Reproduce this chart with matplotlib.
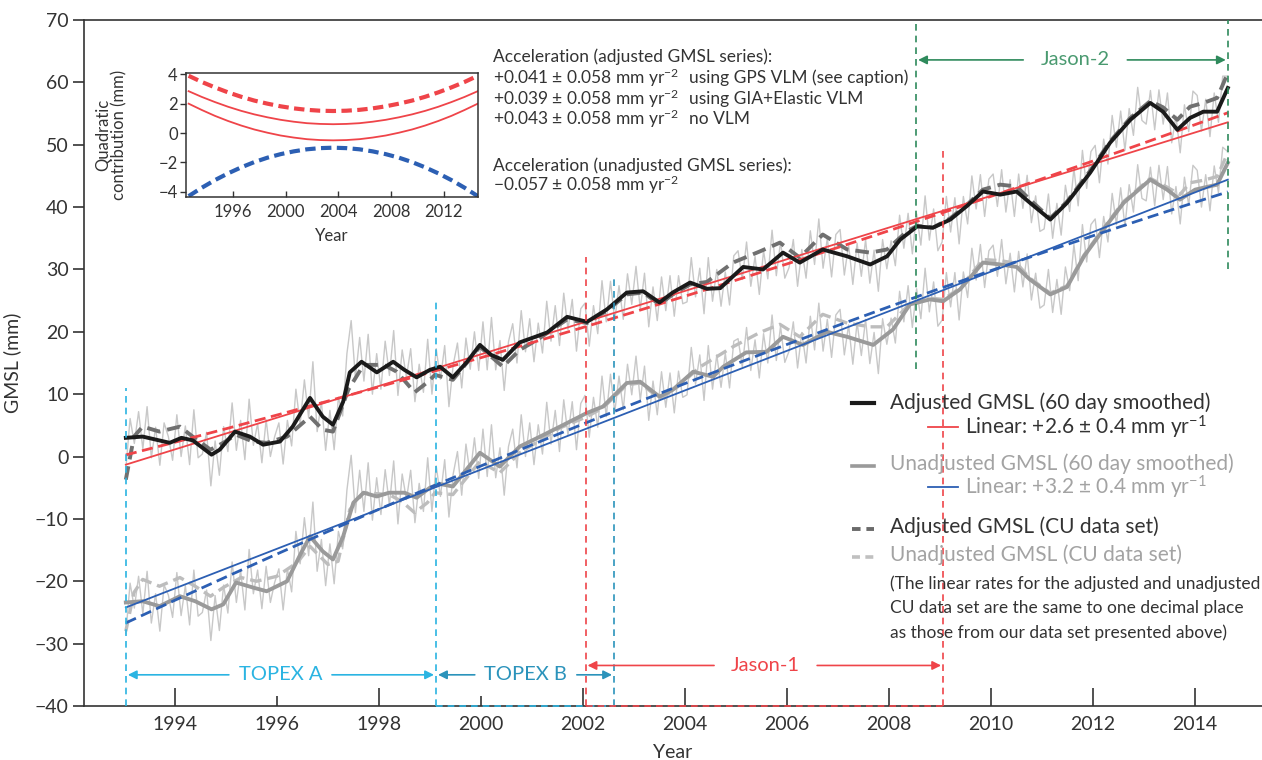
import numpy as np
import matplotlib
matplotlib.use("Agg")
import matplotlib.pyplot as plt
from matplotlib.lines import Line2D

plt.rcParams['font.family'] = ['Lato', 'DejaVu Sans']
plt.rcParams['mathtext.fontset'] = 'custom'
plt.rcParams['mathtext.rm'] = 'Lato'
plt.rcParams['mathtext.it'] = 'Lato'
plt.rcParams['mathtext.default'] = 'regular'

# ---------------- data ----------------
# 60-day smoothed adjusted GMSL (mm)
adj_smooth_years = [1993.04, 1993.37, 1993.9, 1994.13, 1994.35, 1994.72, 1994.88, 1995.18, 1995.47, 1995.73,
                    1996.06, 1996.31, 1996.65, 1996.9, 1997.1, 1997.3, 1997.43, 1997.66, 1997.96, 1998.28,
                    1998.5, 1998.74, 1999.0, 1999.2, 1999.45, 1999.72, 1999.98, 2000.2, 2000.43, 2000.76,
                    2001.1, 2001.3, 2001.69, 2002.08, 2002.47, 2002.86, 2003.18, 2003.5, 2003.76, 2004.1,
                    2004.43, 2004.69, 2005.14, 2005.53, 2005.92, 2006.25, 2006.7, 2007.18, 2007.63, 2007.96,
                    2008.22, 2008.55, 2008.86, 2009.2, 2009.53, 2009.84, 2010.18, 2010.5, 2010.76, 2011.16,
                    2011.49, 2011.94, 2012.33, 2012.73, 2013.12, 2013.37, 2013.65, 2013.9, 2014.16, 2014.43,
                    2014.64]
adj_smooth = [3.0, 3.2, 2.2, 3.0, 2.6, 0.3, 1.1, 4.0, 3.2, 1.9,
              2.4, 4.8, 9.4, 6.4, 5.1, 8.8, 13.5, 15.2, 13.5, 15.2,
              13.9, 12.7, 13.9, 14.4, 12.7, 15.1, 17.9, 16.3, 15.5, 18.3,
              19.3, 19.9, 22.4, 21.6, 23.6, 26.3, 26.5, 24.7, 26.3, 27.9,
              26.9, 27.0, 30.4, 30.0, 32.7, 31.1, 33.2, 32.1, 30.8, 32.1,
              34.8, 36.9, 36.7, 38.0, 40.2, 42.5, 42.0, 42.5, 40.7, 38.0,
              40.7, 45.5, 50.3, 54.0, 56.7, 55.3, 52.4, 54.3, 55.3, 55.3,
              59.1]

# 60-day smoothed unadjusted GMSL (mm)
unadj_smooth_years = [1993.04, 1993.37, 1993.7, 1994.1, 1994.4, 1994.72, 1994.95, 1995.2, 1995.53, 1995.8,
                      1996.2, 1996.46, 1996.65, 1996.9, 1997.1, 1997.3, 1997.5, 1997.7, 1997.96, 1998.2,
                      1998.5, 1998.74, 1999.0, 1999.2, 1999.45, 1999.98, 2000.37, 2000.76, 2001.16, 2001.55,
                      2002.08, 2002.39, 2002.86, 2003.12, 2003.5, 2003.76, 2004.16, 2004.55, 2004.75, 2005.2,
                      2005.6, 2005.92, 2006.31, 2006.78, 2007.18, 2007.69, 2008.08, 2008.41, 2008.8, 2009.06,
                      2009.39, 2009.84, 2010.18, 2010.5, 2010.76, 2011.16, 2011.49, 2011.82, 2012.2, 2012.6,
                      2013.12, 2013.45, 2013.7, 2014.0, 2014.43, 2014.64]
unadj_smooth = [-23.4, -23.2, -24.0, -22.4, -23.2, -24.5, -23.7, -20.2, -21.0, -21.6,
                -20.0, -15.7, -12.8, -15.2, -16.5, -12.8, -7.4, -5.8, -6.4, -5.8,
                -5.8, -6.6, -5.0, -4.4, -4.8, 0.6, -1.6, 1.6, 3.2, 4.8,
                7.0, 8.0, 11.8, 12.0, 9.6, 10.7, 13.6, 12.8, 14.4, 16.7,
                16.8, 19.2, 17.9, 20.0, 19.2, 17.9, 20.4, 24.4, 25.2, 24.9,
                26.8, 31.1, 30.8, 30.4, 28.4, 26.0, 27.2, 32.1, 36.4, 40.7,
                44.4, 42.8, 41.2, 42.8, 43.6, 47.1]

# CU data set, adjusted
cu_adj_years = [1993.04, 1993.2, 1993.37, 1993.7, 1994.1, 1994.35, 1994.7, 1994.95, 1995.2, 1995.53,
                1995.8, 1996.2, 1996.65, 1996.9, 1997.1, 1997.4, 1997.7, 1998.1, 1998.35, 1998.7,
                1998.95, 1999.1, 1999.45, 1999.98, 2000.43, 2000.76, 2001.1, 2001.69, 2002.08, 2002.47,
                2002.86, 2003.18, 2003.5, 2003.76, 2004.1, 2004.43, 2004.94, 2005.47, 2005.86, 2006.25,
                2006.7, 2007.18, 2007.63, 2007.96, 2008.35, 2008.55, 2008.86, 2009.2, 2009.53, 2009.84,
                2010.18, 2010.5, 2010.76, 2011.16, 2011.49, 2011.94, 2012.33, 2012.73, 2013.12, 2013.37,
                2013.65, 2013.9, 2014.16, 2014.43, 2014.64]
cu_adj = [-3.7, 3.2, 4.8, 4.0, 4.8, 3.2, 1.1, 2.2, 3.5, 2.4,
          2.2, 3.2, 6.4, 4.3, 4.0, 10.7, 14.7, 14.7, 13.6, 10.3,
          11.9, 13.1, 12.3, 17.6, 14.4, 17.1, 18.7, 22.0, 21.4, 23.4,
          26.0, 26.3, 24.4, 26.0, 27.6, 28.0, 31.1, 32.9, 34.3, 31.9,
          35.6, 33.2, 32.7, 33.2, 36.1, 37.0, 36.7, 38.2, 40.4, 42.8,
          43.6, 43.3, 41.2, 38.2, 40.9, 45.8, 50.5, 54.3, 57.0, 56.0,
          54.0, 56.1, 56.7, 57.5, 61.5]

# CU data set, unadjusted
cu_unadj_years = [1993.04, 1993.2, 1993.37, 1993.7, 1994.1, 1994.4, 1994.7, 1994.95, 1995.3, 1995.6,
                  1996.0, 1996.4, 1996.65, 1997.0, 1997.2, 1997.43, 1997.7, 1998.2, 1998.45, 1998.7,
                  1998.95, 1999.1, 1999.45, 1999.98, 2000.37, 2000.76, 2001.55, 2002.08, 2002.39, 2002.86,
                  2003.12, 2003.5, 2003.76, 2004.16, 2004.3, 2004.94, 2005.47, 2005.86, 2006.25, 2006.7,
                  2007.18, 2007.63, 2007.96, 2008.35, 2008.8, 2009.06, 2009.39, 2009.84, 2010.18, 2010.5,
                  2010.76, 2011.16, 2011.49, 2011.82, 2012.2, 2012.6, 2013.12, 2013.45, 2013.7, 2013.9,
                  2014.16, 2014.43, 2014.64]
cu_unadj = [-28.0, -21.8, -19.7, -20.8, -19.4, -20.8, -22.4, -21.0, -19.4, -20.0,
            -19.2, -17.0, -14.4, -17.3, -16.8, -8.5, -5.8, -6.1, -7.2, -9.0,
            -7.4, -5.8, -6.1, -0.8, -2.6, 0.6, 4.6, 6.4, 7.8, 11.5,
            11.8, 9.3, 10.5, 13.4, 14.4, 17.6, 19.9, 21.2, 19.2, 22.8,
            21.4, 20.8, 20.8, 24.0, 25.4, 25.2, 27.0, 31.6, 31.4, 31.0,
            28.6, 26.2, 27.4, 32.3, 36.6, 40.9, 44.6, 43.2, 42.0, 43.9,
            44.3, 44.9, 48.7]

# linear fits (solid) and quadratic fits (dashed)
lin_years = [1993.04, 2014.64]
adj_linear = [-1.3, 53.6]
unadj_linear = [-24.2, 44.4]
quad_years = [1993.04, 1994, 1995, 1996, 1997, 1998, 1999, 2000, 2001, 2002, 2003, 2004,
              2005, 2006, 2007, 2008, 2009, 2010, 2011, 2012, 2013, 2014, 2014.64]
adj_quad = [0.26, 2.29, 4.45, 6.65, 8.89, 11.17, 13.49, 15.85, 18.26, 20.70, 23.18, 25.71,
            28.28, 30.89, 33.53, 36.22, 38.96, 41.73, 44.54, 47.40, 50.29, 53.23, 55.12]
unadj_quad = [-26.68, -23.05, -19.32, -15.64, -12.02, -8.46, -4.96, -1.51, 1.88, 5.21, 8.49, 11.71,
              14.87, 17.98, 21.03, 24.02, 26.95, 29.83, 32.65, 35.41, 38.12, 40.77, 42.44]

# raw (unsmoothed) series, monthly samples starting 1993.04
raw_start = 1993.04
adj_raw = [
    -2.0, 6.1, 2.1, 7.2, 1.2, 8.0, -0.2, 4.7, -1.4, 5.4, 3.2, -0.6,
    6.7, 0.0, 4.9, -1.3, 7.5, -0.2, 0.4, 3.9, -4.7, 2.5, -3.0, 4.8,
    0.8, 8.6, 1.0, 5.8, -0.5, 9.2, 1.8, 5.3, -1.0, 5.9, 0.0, 3.2,
    5.4, -1.2, 5.8, 1.7, 10.8, 5.2, 12.3, 6.2, 15.2, 4.0, 8.8, 1.0,
    7.4, 1.1, 9.5, 6.5, 16.5, 21.8, 12.6, 19.1, 12.1, 19.6, 10.0, 16.5,
    10.8, 18.5, 13.0, 20.2, 9.8, 17.1, 12.7, 17.3, 8.8, 14.8, 10.3, 18.8,
    10.0, 17.3, 12.4, 17.8, 8.0, 14.7, 18.2, 11.0, 19.0, 14.0, 20.0, 13.8,
    21.6, 13.9, 22.3, 13.9, 18.6, 10.6, 18.4, 21.3, 15.0, 23.4, 16.8, 22.1,
    15.2, 21.4, 16.6, 24.9, 18.5, 24.2, 17.8, 26.2, 20.4, 25.2, 16.9, 23.7,
    24.6, 17.7, 24.2, 19.7, 28.2, 21.6, 28.1, 21.8, 27.4, 22.0, 29.3, 24.4,
    30.5, 23.6, 29.4, 20.8, 27.2, 21.8, 28.8, 23.4, 29.0, 22.5, 29.0, 24.5,
    24.8, 31.9, 25.6, 30.2, 22.9, 31.9, 24.9, 30.0, 24.1, 29.6, 24.3, 32.2,
    33.0, 28.4, 34.4, 27.3, 32.1, 26.0, 33.0, 28.5, 36.3, 29.0, 34.5, 28.6,
    30.3, 34.8, 27.3, 33.2, 28.6, 36.2, 30.8, 38.1, 30.2, 35.0, 28.8, 35.6,
    36.4, 29.1, 34.0, 27.6, 34.2, 28.9, 34.8, 27.8, 33.1, 26.5, 34.8, 30.1,
    34.6, 30.6, 38.7, 33.4, 39.0, 32.5, 38.9, 33.9, 41.8, 34.7, 39.7, 33.0,
    34.4, 41.7, 36.0, 41.5, 34.1, 41.7, 37.3, 45.0, 39.7, 45.2, 38.5, 44.5,
    45.3, 40.1, 46.0, 39.2, 44.4, 38.5, 45.3, 39.8, 45.1, 37.5, 41.8, 36.1,
    36.5, 42.1, 35.0, 40.6, 35.5, 43.5, 39.3, 46.2, 40.2, 49.1, 43.0, 48.9,
    49.9, 43.9, 50.9, 46.9, 54.7, 49.6, 55.4, 49.1, 55.8, 51.5, 59.2, 53.9,
    53.3, 58.7, 52.4, 58.8, 53.3, 58.3, 50.3, 54.6, 48.7, 56.4, 52.1, 58.6,
    57.9, 52.2, 57.3, 51.3, 58.3, 53.6, 61.0, 61.0]
unadj_raw = [
    -28.4, -20.3, -24.3, -19.2, -25.2, -18.4, -26.7, -22.0, -28.0, -20.6, -22.2, -25.8,
    -18.6, -25.5, -20.7, -27.0, -18.2, -25.6, -25.0, -21.4, -29.5, -22.3, -27.9, -20.6,
    -25.1, -16.9, -23.4, -18.3, -24.6, -14.9, -22.0, -18.2, -24.4, -17.6, -23.4, -20.2,
    -18.0, -24.6, -18.0, -21.7, -12.0, -17.2, -9.8, -15.9, -7.3, -18.4, -13.3, -20.7,
    -14.0, -20.4, -12.0, -14.8, -5.4, 0.2, -9.0, -2.2, -8.8, -1.0, -10.2, -3.4,
    -9.3, -2.1, -7.8, -0.7, -10.8, -2.8, -6.9, -2.2, -10.6, -4.3, -8.8, -0.2,
    -8.8, -1.5, -6.4, -0.5, -9.7, -2.8, 0.8, -6.2, 2.0, -2.9, 3.0, -3.5,
    4.4, -3.2, 5.1, -3.4, 1.4, -6.2, 1.6, 4.4, -1.8, 6.7, 0.0, 5.4,
    -1.3, 5.1, 0.4, 8.7, 2.0, 7.4, 0.8, 9.1, 3.4, 8.8, 1.1, 8.5,
    9.8, 3.1, 9.5, 4.7, 12.9, 6.4, 13.2, 7.1, 12.9, 7.5, 14.8, 9.9,
    16.1, 9.0, 14.5, 5.8, 12.1, 6.7, 13.6, 7.9, 13.4, 7.0, 13.7, 9.5,
    9.9, 17.5, 11.6, 16.3, 9.0, 17.8, 10.8, 16.3, 11.1, 16.6, 11.0, 18.5,
    18.9, 14.4, 20.7, 13.8, 18.7, 12.6, 19.7, 15.0, 22.7, 15.4, 20.9, 15.1,
    16.9, 21.6, 14.2, 19.9, 15.0, 22.5, 17.1, 24.6, 16.9, 22.0, 15.9, 22.7,
    23.6, 16.3, 21.1, 14.8, 21.5, 16.2, 22.0, 14.9, 19.9, 13.3, 22.1, 18.0,
    22.2, 18.2, 26.5, 21.6, 27.4, 20.7, 26.9, 22.1, 30.2, 23.2, 28.0, 20.9,
    21.9, 29.5, 24.0, 29.5, 21.9, 29.6, 25.5, 33.4, 28.3, 34.0, 27.1, 33.0,
    33.9, 28.9, 34.8, 27.7, 32.6, 26.4, 32.9, 27.2, 32.5, 25.1, 29.4, 23.8,
    24.3, 30.0, 23.1, 28.4, 22.8, 30.4, 26.6, 34.0, 28.2, 37.2, 31.2, 37.2,
    38.1, 31.9, 38.5, 34.4, 42.2, 37.2, 43.1, 36.9, 43.6, 39.2, 46.8, 41.4,
    41.0, 46.4, 40.2, 46.7, 41.2, 46.5, 38.9, 43.3, 37.3, 44.8, 40.3, 46.7,
    45.9, 40.0, 45.2, 39.4, 46.6, 42.3, 49.6, 49.0]

# satellite missions
mission_names = ['TOPEX A', 'TOPEX B', 'Jason-1', 'Jason-2']
mission_start = [1993.04, 1999.12, 2002.05, 2008.53]
mission_end = [1999.12, 2002.61, 2009.06, 2014.64]

# inset: quadratic contribution (mm)
inset_start = 1992.6
q_cu_adj = [3.90, 3.48, 3.11, 2.77, 2.47, 2.21, 2.00, 1.82, 1.68, 1.58, 1.52, 1.50,
            1.52, 1.58, 1.68, 1.82, 2.00, 2.21, 2.47, 2.77, 3.11, 3.48, 3.90]
q_gps = [2.85, 2.46, 2.11, 1.79, 1.51, 1.27, 1.07, 0.90, 0.77, 0.67, 0.62, 0.60,
         0.62, 0.67, 0.77, 0.90, 1.07, 1.27, 1.51, 1.79, 2.11, 2.46, 2.85]
q_novlm = [2.00, 1.57, 1.17, 0.82, 0.51, 0.24, 0.02, -0.17, -0.31, -0.42, -0.48, -0.50,
           -0.48, -0.42, -0.31, -0.17, 0.02, 0.24, 0.51, 0.82, 1.17, 1.57, 2.00]
q_unadj = [-4.30, -3.73, -3.21, -2.75, -2.34, -1.98, -1.68, -1.44, -1.25, -1.11, -1.03, -1.00,
           -1.03, -1.11, -1.25, -1.44, -1.68, -1.98, -2.34, -2.75, -3.21, -3.73, -4.30]

# ---------------- styles ----------------
TXT = '#333333'
LIGHT = '#a3a3a3'
RED = '#ef4449'
BLUE = '#2c5fb3'
CYAN = '#2bb4e2'
TEAL = '#2b93bb'
GREEN = '#2f8a5c'

W, H = 1262, 760
fig = plt.figure(figsize=(W / 100, H / 100), dpi=100)
ax = fig.add_axes([84 / W, (H - 706) / H, (W - 84) / W, 686 / H])
ax.set_xlim(1992.22, 2015.31)
ax.set_ylim(-40, 70)

raw_years = raw_start + np.arange(len(adj_raw)) / 12.0
ax.plot(raw_years, adj_raw, color='#c8c8c8', lw=1.0, zorder=1)
ax.plot(raw_years, unadj_raw, color='#c8c8c8', lw=1.0, zorder=1)

ax.plot(cu_unadj_years, cu_unadj, color='#bdbdbd', lw=2.4, ls=(0, (3.5, 1.8)), zorder=2)
ax.plot(unadj_smooth_years, unadj_smooth, color='#9a9a9a', lw=2.8, zorder=3, solid_joinstyle='round')
ax.plot(cu_adj_years, cu_adj, color='#707070', lw=2.8, ls=(0, (3.5, 1.8)), zorder=4)
ax.plot(lin_years, adj_linear, color=RED, lw=1.3, zorder=5)
ax.plot(quad_years, adj_quad, color=RED, lw=2.0, ls=(0, (4, 2)), zorder=5)
ax.plot(lin_years, unadj_linear, color=BLUE, lw=1.3, zorder=5)
ax.plot(quad_years, unadj_quad, color=BLUE, lw=2.0, ls=(0, (4, 2)), zorder=5)
ax.plot(adj_smooth_years, adj_smooth, color='#1a1a1a', lw=2.8, zorder=6, solid_joinstyle='round')

# mission boundary lines
dash = (0, (4, 3))
vlines = [(mission_start[0], -40, 11, CYAN), (mission_end[0], -40, 25, CYAN),
          (mission_start[2], -40, 32, RED), (mission_end[1], -40, 29, TEAL),
          (mission_end[2], -40, 49, RED), (mission_start[3], 14, 70, GREEN),
          (mission_end[3], 30, 70, GREEN)]
for x, y0, y1, c in vlines:
    ax.plot([x, x], [y0, y1], color=c, lw=1.2, ls=dash, zorder=7, clip_on=False)
ax.plot([mission_start[1], mission_end[1]], [-40, -40], color=CYAN, lw=1.2, ls=dash, zorder=8, clip_on=False)
ax.plot([mission_start[2], mission_end[2]], [-40, -40], color=RED, lw=1.2, ls=dash, zorder=8, clip_on=False)


def span_arrow(x0, x1, xl, xr, y, label, lc, tc):
    ap = dict(arrowstyle='-|>', color=lc, lw=1.2, mutation_scale=13, shrinkA=0, shrinkB=0)
    ax.annotate('', xy=(x0 + 0.04, y), xytext=(xl, y), arrowprops=ap, zorder=8)
    ax.annotate('', xy=(x1 - 0.04, y), xytext=(xr, y), arrowprops=ap, zorder=8)
    ax.text((xl + xr) / 2, y, label, color=tc, fontsize=14.5, ha='center', va='center', zorder=8)


span_arrow(mission_start[0], mission_end[0], 1995.06, 1997.08, -35.0, mission_names[0], CYAN, CYAN)
span_arrow(mission_start[1], mission_end[1], 1999.88, 2001.88, -35.0, mission_names[1], TEAL, TEAL)
span_arrow(mission_start[2], mission_end[2], 2004.57, 2006.59, -33.5, mission_names[2], RED, RED)
span_arrow(mission_start[3], mission_end[3], 2010.63, 2012.67, 63.6, mission_names[3], GREEN, '#4a9a70')

# axes styling
for s in ['left', 'bottom', 'top']:
    ax.spines[s].set_linewidth(1.2)
    ax.spines[s].set_color('#333333')
ax.spines['right'].set_visible(False)
xt = list(range(1994, 2015, 2))
ax.set_xticks(xt)
ax.set_xticklabels([str(v) for v in xt])
ax.set_yticks(range(-40, 71, 10))
ax.tick_params(axis='x', direction='in', length=13, width=1.2, pad=7, labelsize=14, colors=TXT, top=False)
ax.tick_params(axis='y', direction='out', length=8, width=1.2, pad=3, labelsize=14, colors=TXT, right=False)
for t, v in zip(ax.xaxis.get_major_ticks(), xt):
    if v in (1996, 2000):
        t.tick1line.set_markersize(7)
ax.set_xlabel('Year', fontsize=14, color=TXT, labelpad=8)
ax.set_ylabel('GMSL (mm)', fontsize=14, color=TXT)
ax.yaxis.set_label_coords(-0.053, 0.5)

# ---------------- inset ----------------
axin = fig.add_axes([186 / W, (H - 197) / H, (478 - 186) / W, (197 - 73) / H])
axin.set_facecolor('white')
axin.set_xlim(1992.4, 2014.62)
axin.set_ylim(-4.36, 4.09)
inset_years = inset_start + np.arange(len(q_gps))
axin.plot(inset_years, q_cu_adj, color=RED, lw=3.0, ls=(0, (2.5, 1.3)))
axin.plot(inset_years, q_gps, color=RED, lw=1.3)
axin.plot(inset_years, q_novlm, color=RED, lw=1.3)
axin.plot(inset_years, q_unadj, color=BLUE, lw=3.0, ls=(0, (2.5, 1.3)))
axin.set_xticks([1996, 2000, 2004, 2008, 2012])
axin.set_yticks([-4, -2, 0, 2, 4])
axin.tick_params(axis='x', direction='in', length=4, width=1, pad=5, labelsize=12, colors=TXT)
axin.tick_params(axis='y', direction='out', length=4, width=1, pad=2, labelsize=12, colors=TXT)
for s in axin.spines.values():
    s.set_linewidth(1.1)
    s.set_color('#333333')
axin.set_xlabel('Year', fontsize=12, color=TXT, labelpad=6)
axin.set_ylabel('Quadratic\ncontribution (mm)', fontsize=12, color=TXT, linespacing=1.0)
axin.yaxis.set_label_coords(-0.20, 0.5)

# ---------------- overlay (texts, legend) ----------------
ov = fig.add_axes([0, 0, 1, 1])
ov.set_xlim(0, W)
ov.set_ylim(H, 0)
ov.axis('off')
ov.patch.set_alpha(0)

fs_a = 12.5
ov.text(493, 57, 'Acceleration (adjusted GMSL series):', fontsize=fs_a, color=TXT, va='center')
acc_vals = ['+0.041 ± 0.058 mm yr$^{-2}$', '+0.039 ± 0.058 mm yr$^{-2}$', '+0.043 ± 0.058 mm yr$^{-2}$']
acc_desc = ['using GPS VLM (see caption)', 'using GIA+Elastic VLM', 'no VLM']
for i, (v, d) in enumerate(zip(acc_vals, acc_desc)):
    yy = [78, 99, 119][i]
    ov.text(493, yy, v, fontsize=fs_a, color=TXT, va='center')
    ov.text(689, yy, d, fontsize=fs_a, color=TXT, va='center')
ov.text(493, 166, 'Acceleration (unadjusted GMSL series):', fontsize=fs_a, color=TXT, va='center')
ov.text(493, 185, '−0.057 ± 0.058 mm yr$^{-2}$', fontsize=fs_a, color=TXT, va='center')

fs_l = 15
ov.add_line(Line2D([852, 874], [403, 403], color='#1a1a1a', lw=3.0))
ov.text(890, 403, 'Adjusted GMSL (60 day smoothed)', fontsize=fs_l, color=TXT, va='center')
ov.add_line(Line2D([928, 958], [427, 427], color=RED, lw=1.3))
ov.text(965, 427, 'Linear: +2.6 ± 0.4 mm yr$^{-1}$', fontsize=fs_l, color=TXT, va='center')
ov.add_line(Line2D([852, 874], [466, 466], color='#9a9a9a', lw=2.6))
ov.text(890, 464, 'Unadjusted GMSL (60 day smoothed)', fontsize=fs_l, color=LIGHT, va='center')
ov.add_line(Line2D([928, 958], [487, 487], color=BLUE, lw=1.3))
ov.text(965, 487, 'Linear: +3.2 ± 0.4 mm yr$^{-1}$', fontsize=fs_l, color=LIGHT, va='center')
ov.add_line(Line2D([852, 874], [529, 529], color='#6a6a6a', lw=2.8, ls=(0, (2.2, 1.5))))
ov.text(890, 527, 'Adjusted GMSL (CU data set)', fontsize=fs_l, color=TXT, va='center')
ov.add_line(Line2D([852, 874], [557, 557], color='#c0c0c0', lw=2.6, ls=(0, (2.2, 1.5))))
ov.text(890, 555, 'Unadjusted GMSL (CU data set)', fontsize=fs_l, color=LIGHT, va='center')
note = ['(The linear rates for the adjusted and unadjusted',
        'CU data set are the same to one decimal place',
        'as those from our data set presented above)']
for i, line in enumerate(note):
    ov.text(890, 584 + 24.5 * i, line, fontsize=12.5, color=TXT, va='center')

fig.savefig('out.png', dpi=100, facecolor='white')
